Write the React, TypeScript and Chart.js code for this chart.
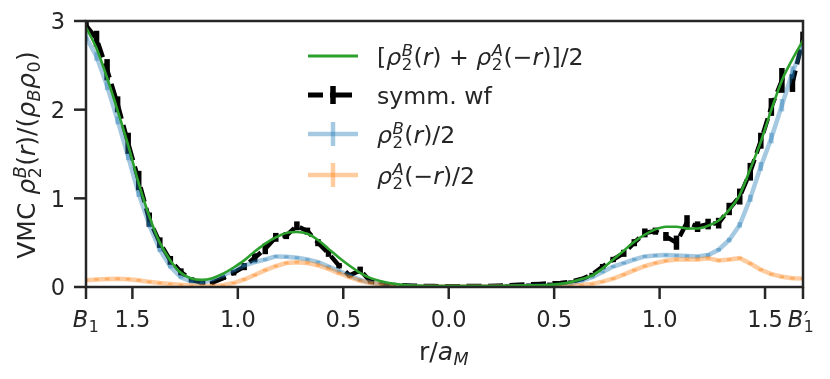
import React, { useEffect, useRef } from "react";
import { Chart, registerables } from "chart.js";
Chart.register(...registerables);

// position along the path B1 -> centre -> B1' (in units of a_M)
const X = [
  -1.72, -1.67, -1.62, -1.57, -1.52, -1.47, -1.42, -1.37, -1.32, -1.27,
  -1.22, -1.17, -1.12, -1.07, -1.02, -0.97, -0.92, -0.87, -0.82, -0.77,
  -0.72, -0.67, -0.62, -0.57, -0.52, -0.47, -0.42, -0.37, -0.32, -0.27,
  -0.22, -0.17, -0.12, -0.07, -0.02, 0.03, 0.08, 0.13, 0.18, 0.23,
  0.28, 0.33, 0.38, 0.43, 0.48, 0.53, 0.58, 0.63, 0.68, 0.73,
  0.78, 0.83, 0.88, 0.93, 0.98, 1.03, 1.08, 1.13, 1.18, 1.23,
  1.28, 1.33, 1.38, 1.43, 1.48, 1.53, 1.58, 1.63, 1.68,
];

const GREEN = [
  2.93, 2.69, 2.36, 1.99, 1.6, 1.17, 0.8, 0.5, 0.3, 0.16,
  0.095, 0.08, 0.1, 0.15, 0.22, 0.3, 0.4, 0.49, 0.56, 0.61,
  0.62, 0.6, 0.53, 0.43, 0.33, 0.24, 0.16, 0.1, 0.065, 0.04,
  0.025, 0.015, 0.012, 0.01, 0.01, 0.01, 0.01, 0.01, 0.012, 0.012,
  0.014, 0.016, 0.018, 0.02, 0.025, 0.035, 0.055, 0.09, 0.13, 0.21,
  0.31, 0.41, 0.51, 0.59, 0.65, 0.68, 0.68, 0.66, 0.66, 0.69,
  0.75, 0.87, 1.04, 1.33, 1.64, 2.0, 2.33, 2.57, 2.78,
];

const SYMM = [
  2.95, 2.8, 2.45, 2.06, 1.62, 1.2, 0.76, 0.5, 0.3, 0.17,
  0.08, 0.05, 0.05, 0.1, 0.16, 0.23, 0.33, 0.43, 0.56, 0.58,
  0.69, 0.63, 0.5, 0.38, 0.24, 0.13, 0.19, 0.06, 0.04, 0.025,
  0.02, 0.015, 0.012, 0.01, 0.008, 0.008, 0.01, 0.012, 0.01, 0.015,
  0.02, 0.025, 0.03, 0.035, 0.04, 0.045, 0.06, 0.09, 0.14, 0.23,
  0.31, 0.38, 0.5, 0.61, 0.63, 0.57, 0.5, 0.73, 0.68, 0.71,
  0.72, 0.88, 1.02, 1.3, 1.65, 2.03, 2.33, 2.3, 2.8,
];
const SYMM_ERR = [
  0.07, 0.09, 0.12, 0.09, 0.12, 0.11, 0.08, 0.06, 0.05, 0.04,
  0.03, 0.02, 0.02, 0.02, 0.03, 0.04, 0.05, 0.06, 0.05, 0.04,
  0.05, 0.04, 0.04, 0.04, 0.03, 0.02, 0.04, 0.02, 0.01, 0.01,
  0.01, 0.01, 0.01, 0.01, 0.01, 0.01, 0.01, 0.01, 0.01, 0.01,
  0.01, 0.01, 0.01, 0.01, 0.01, 0.01, 0.015, 0.02, 0.02, 0.03,
  0.03, 0.04, 0.04, 0.05, 0.04, 0.05, 0.08, 0.08, 0.06, 0.06,
  0.06, 0.07, 0.09, 0.1, 0.09, 0.1, 0.14, 0.1, 0.08,
];

const BLUE = [
  2.82, 2.6, 2.27, 1.88, 1.47, 1.05, 0.7, 0.42, 0.23, 0.11,
  0.06, 0.045, 0.085, 0.13, 0.19, 0.24, 0.28, 0.31, 0.345, 0.34,
  0.33, 0.31, 0.28, 0.23, 0.18, 0.13, 0.08, 0.05, 0.03, 0.02,
  0.012, 0.01, 0.008, 0.007, 0.006, 0.006, 0.006, 0.007, 0.008, 0.009,
  0.01, 0.011, 0.012, 0.014, 0.018, 0.025, 0.04, 0.07, 0.11, 0.17,
  0.23, 0.27, 0.31, 0.345, 0.355, 0.36, 0.355, 0.35, 0.345, 0.36,
  0.42, 0.53, 0.7, 1.0, 1.36, 1.68, 2.05, 2.42, 2.72,
];
const BLUE_ERR = [
  0.05, 0.05, 0.05, 0.045, 0.04, 0.035, 0.03, 0.025, 0.02, 0.015,
  0.015, 0.015, 0.015, 0.015, 0.015, 0.015, 0.015, 0.015, 0.015, 0.015,
  0.015, 0.015, 0.015, 0.015, 0.015, 0.015, 0.015, 0.015, 0.01, 0.01,
  0.01, 0.01, 0.01, 0.01, 0.01, 0.01, 0.01, 0.01, 0.01, 0.01,
  0.01, 0.01, 0.01, 0.01, 0.01, 0.015, 0.015, 0.015, 0.015, 0.015,
  0.015, 0.015, 0.015, 0.015, 0.015, 0.015, 0.015, 0.015, 0.015, 0.02,
  0.02, 0.025, 0.03, 0.04, 0.05, 0.06, 0.07, 0.07, 0.07,
];

const ORANGE = [
  0.075, 0.085, 0.09, 0.092, 0.088, 0.075, 0.058, 0.045, 0.035, 0.025,
  0.018, 0.012, 0.012, 0.02, 0.045, 0.085, 0.135, 0.19, 0.235, 0.27,
  0.28, 0.27, 0.245, 0.205, 0.155, 0.11, 0.07, 0.045, 0.028, 0.018,
  0.01, 0.007, 0.006, 0.005, 0.005, 0.005, 0.005, 0.005, 0.005, 0.005,
  0.005, 0.006, 0.006, 0.007, 0.008, 0.01, 0.015, 0.022, 0.035, 0.06,
  0.095, 0.14, 0.19, 0.235, 0.27, 0.295, 0.31, 0.31, 0.31, 0.325,
  0.3, 0.31, 0.325, 0.265, 0.195, 0.145, 0.115, 0.1, 0.095,
];
const ORANGE_ERR = [
  0.015, 0.015, 0.015, 0.015, 0.015, 0.015, 0.015, 0.015, 0.012, 0.012,
  0.01, 0.01, 0.01, 0.01, 0.012, 0.015, 0.015, 0.015, 0.015, 0.015,
  0.015, 0.015, 0.015, 0.015, 0.015, 0.015, 0.012, 0.01, 0.01, 0.01,
  0.01, 0.01, 0.01, 0.01, 0.01, 0.01, 0.01, 0.01, 0.01, 0.01,
  0.01, 0.01, 0.01, 0.01, 0.01, 0.01, 0.01, 0.01, 0.012, 0.012,
  0.015, 0.015, 0.015, 0.015, 0.015, 0.015, 0.015, 0.015, 0.015, 0.015,
  0.015, 0.015, 0.015, 0.015, 0.015, 0.015, 0.015, 0.015, 0.015,
];

const X_MIN = -1.72;
const X_MAX = 1.68;
const X_TICKS = [-1.72, -1.5, -1.0, -0.5, 0.0, 0.5, 1.0, 1.5, 1.68];
const X_TICK_LABELS = ["B1", "1.5", "1.0", "0.5", "0.0", "0.5", "1.0", "1.5", "B1'"];
const Y_TICKS = [0, 1, 2, 3];
const Y_TICK_LABELS = ["0", "1", "2", "3"];

type Tok = {
  t: string;
  it?: boolean;
  sup?: string;
  sub?: string;
  supIt?: boolean;
  subIt?: boolean;
  supScale?: number;
  supRaise?: number;
};

const LEGEND_TEXT: Tok[][] = [
  [
    { t: "[" },
    { t: "ρ", it: true, sup: "B", supIt: true, sub: "2" },
    { t: "(" },
    { t: "r", it: true },
    { t: ") + " },
    { t: "ρ", it: true, sup: "A", supIt: true, sub: "2" },
    { t: "(−" },
    { t: "r", it: true },
    { t: ")]/2" },
  ],
  [{ t: "symm. wf" }],
  [{ t: "ρ", it: true, sup: "B", supIt: true, sub: "2" }, { t: "(" }, { t: "r", it: true }, { t: ")/2" }],
  [{ t: "ρ", it: true, sup: "A", supIt: true, sub: "2" }, { t: "(−" }, { t: "r", it: true }, { t: ")/2" }],
];
const Y_LABEL: Tok[] = [
  { t: "VMC " },
  { t: "ρ", it: true, sup: "B", supIt: true, sub: "2" },
  { t: "(" },
  { t: "r", it: true },
  { t: ")/(" },
  { t: "ρ", it: true, sub: "B", subIt: true },
  { t: "ρ", it: true, sub: "0" },
  { t: ")" },
];
const X_LABEL: Tok[] = [{ t: "r/" }, { t: "a", it: true, sub: "M", subIt: true }];

const FAM = '"DejaVu Sans"';
const INK = "#262626";
const FS_TICK = 22.5;
const FS_LEG = 23.6;
const FS_LAB = 25;

function fnt(size: number, it?: boolean) {
  return `${it ? "italic " : ""}${size}px ${FAM}`;
}
function scriptW(ctx: CanvasRenderingContext2D, tok: Tok, size: number) {
  const ss = size * 0.7;
  let a = 0,
    b = 0;
  if (tok.sup) {
    ctx.font = fnt(size * (tok.supScale ?? 0.7), tok.supIt);
    a = ctx.measureText(tok.sup).width;
  }
  if (tok.sub) {
    ctx.font = fnt(ss, tok.subIt);
    b = ctx.measureText(tok.sub).width;
  }
  return Math.max(a, b) + size * 0.04;
}
function tokW(ctx: CanvasRenderingContext2D, tok: Tok, size: number) {
  ctx.font = fnt(size, tok.it);
  let w = ctx.measureText(tok.t).width;
  if (tok.sup || tok.sub) w += scriptW(ctx, tok, size);
  return w;
}
function mathW(ctx: CanvasRenderingContext2D, toks: Tok[], size: number) {
  return toks.reduce((s, t) => s + tokW(ctx, t, size), 0);
}
function drawMath(
  ctx: CanvasRenderingContext2D,
  toks: Tok[],
  x: number,
  y: number,
  size: number,
  align: "left" | "center" | "right"
) {
  const W = mathW(ctx, toks, size);
  let cx = align === "left" ? x : align === "center" ? x - W / 2 : x - W;
  ctx.textAlign = "left";
  ctx.textBaseline = "alphabetic";
  for (const tok of toks) {
    ctx.font = fnt(size, tok.it);
    ctx.fillText(tok.t, cx, y);
    let w = ctx.measureText(tok.t).width;
    if (tok.sup || tok.sub) {
      const sx = cx + w + size * 0.02;
      if (tok.sup) {
        ctx.font = fnt(size * (tok.supScale ?? 0.7), tok.supIt);
        ctx.fillText(tok.sup, sx, y - size * (tok.supRaise ?? 0.38));
      }
      if (tok.sub) {
        ctx.font = fnt(size * 0.7, tok.subIt);
        ctx.fillText(tok.sub, sx, y + size * (tok.sup ? 0.24 : 0.2));
      }
      w += scriptW(ctx, tok, size);
    }
    cx += w;
  }
}

const errorBars = {
  id: "errorBars",
  afterDatasetDraw(chart: any, args: any) {
    const ds = chart.data.datasets[args.index];
    if (!ds.errors) return;
    const { ctx, chartArea: a } = chart;
    const xs = chart.scales.x;
    const ys = chart.scales.y;
    ctx.save();
    ctx.beginPath();
    ctx.rect(a.left, a.top, a.right - a.left, a.bottom - a.top);
    ctx.clip();
    ctx.strokeStyle = ds.errColor;
    ctx.lineWidth = ds.errWidth;
    ctx.lineCap = "butt";
    ctx.setLineDash([]);
    ds.data.forEach((p: any, i: number) => {
      const e = ds.errors[i];
      const px = xs.getPixelForValue(p.x);
      ctx.beginPath();
      ctx.moveTo(px, ys.getPixelForValue(p.y - e));
      ctx.lineTo(px, ys.getPixelForValue(p.y + e));
      ctx.stroke();
    });
    ctx.restore();
  },
};

const decor = {
  id: "decor",
  afterDraw(chart: any) {
    const { ctx, chartArea: a } = chart;
    const xs = chart.scales.x;
    const ys = chart.scales.y;
    ctx.save();
    ctx.strokeStyle = INK;
    ctx.fillStyle = INK;
    ctx.lineWidth = 2.5;
    ctx.setLineDash([]);
    ctx.lineCap = "butt";
    // spines
    ctx.strokeRect(a.left, a.top, a.right - a.left, a.bottom - a.top);
    // ticks
    const TL = 12;
    X_TICKS.forEach((v, i) => {
      const px = xs.getPixelForValue(v);
      ctx.beginPath();
      ctx.moveTo(px, a.bottom);
      ctx.lineTo(px, a.bottom + TL);
      ctx.stroke();
      const lab = X_TICK_LABELS[i];
      const yb = a.bottom + 40;
      if (lab === "B1") {
        drawMath(ctx, [{ t: "B", it: true, sub: "1" }], px, yb, FS_TICK, "center");
      } else if (lab === "B1'") {
        drawMath(
          ctx,
          [{ t: "B", it: true, sup: "′", sub: "1", supScale: 0.95, supRaise: 0.02 }],
          px - 2,
          yb,
          FS_TICK,
          "center"
        );
      } else {
        ctx.font = fnt(FS_TICK);
        ctx.textAlign = "center";
        ctx.textBaseline = "alphabetic";
        ctx.fillText(lab, px, yb);
      }
    });
    Y_TICKS.forEach((v, i) => {
      const py = ys.getPixelForValue(v);
      ctx.beginPath();
      ctx.moveTo(a.left, py);
      ctx.lineTo(a.left - TL, py);
      ctx.stroke();
      ctx.font = fnt(FS_TICK);
      ctx.textAlign = "right";
      ctx.textBaseline = "alphabetic";
      ctx.fillText(Y_TICK_LABELS[i], 65, py + 8.2);
    });
    // axis labels
    drawMath(ctx, X_LABEL, 444, 360, FS_LAB, "center");
    ctx.save();
    ctx.translate(35, 155);
    ctx.rotate(-Math.PI / 2);
    drawMath(ctx, Y_LABEL, 0, 0, FS_LAB, "center");
    ctx.restore();

    // legend
    const rows = [56, 95, 134, 175];
    const hx0 = 308,
      hx1 = 358,
      hc = 333,
      tx = 377;
    ctx.strokeStyle = "#2ca02c";
    ctx.lineWidth = 3;
    ctx.beginPath();
    ctx.moveTo(hx0, rows[0]);
    ctx.lineTo(hx1, rows[0]);
    ctx.stroke();
    ctx.strokeStyle = "#000";
    ctx.lineWidth = 5;
    ctx.beginPath();
    ctx.moveTo(hx0, rows[1]);
    ctx.lineTo(hx0 + 15, rows[1]);
    ctx.moveTo(hx0 + 22, rows[1]);
    ctx.lineTo(hx0 + 44, rows[1]);
    ctx.stroke();
    ctx.lineWidth = 5.5;
    ctx.beginPath();
    ctx.moveTo(hc, rows[1] - 9);
    ctx.lineTo(hc, rows[1] + 9);
    ctx.stroke();
    const cross = (y: number, col: string) => {
      ctx.strokeStyle = col;
      ctx.lineWidth = 4.5;
      ctx.beginPath();
      ctx.moveTo(hx0, y);
      ctx.lineTo(hx1, y);
      ctx.stroke();
      ctx.beginPath();
      ctx.moveTo(hc, y - 12);
      ctx.lineTo(hc, y + 12);
      ctx.stroke();
    };
    cross(rows[2], "rgba(31,119,180,0.4)");
    cross(rows[3], "rgba(255,127,14,0.4)");
    ctx.fillStyle = INK;
    LEGEND_TEXT.forEach((toks, i) => drawMath(ctx, toks, tx, rows[i] + 8.5, FS_LEG, "left"));
    ctx.restore();
  },
};

export default function App() {
  const ref = useRef<HTMLCanvasElement | null>(null);
  useEffect(() => {
    if (!ref.current) return;
    const pts = (ys: number[]) => X.map((x, i) => ({ x, y: ys[i] }));
    const chart = new Chart(ref.current, {
      type: "line",
      data: {
        datasets: [
          {
            label: "green",
            data: pts(GREEN),
            borderColor: "#2ca02c",
            borderWidth: 2.6,
            pointRadius: 0,
            cubicInterpolationMode: "monotone",
            order: 0,
          } as any,
          {
            label: "orange",
            data: pts(ORANGE),
            borderColor: "rgba(255,127,14,0.4)",
            borderWidth: 4.5,
            pointRadius: 0,
            tension: 0,
            order: 1,
            errors: ORANGE_ERR,
            errColor: "rgba(255,127,14,0.4)",
            errWidth: 4.5,
          } as any,
          {
            label: "blue",
            data: pts(BLUE),
            borderColor: "rgba(31,119,180,0.4)",
            borderWidth: 4.5,
            pointRadius: 0,
            tension: 0,
            order: 2,
            errors: BLUE_ERR,
            errColor: "rgba(31,119,180,0.4)",
            errWidth: 4.5,
          } as any,
          {
            label: "symm",
            data: pts(SYMM),
            borderColor: "#000",
            borderWidth: 4.5,
            borderDash: [15, 6.5],
            borderCapStyle: "butt",
            pointRadius: 0,
            tension: 0,
            order: 3,
            errors: SYMM_ERR,
            errColor: "#000",
            errWidth: 5.5,
          } as any,
        ],
      },
      options: {
        responsive: false,
        animation: false,
        devicePixelRatio: 1,
        layout: { padding: { left: 86, right: 27, top: 21, bottom: 92 } },
        plugins: { legend: { display: false }, tooltip: { enabled: false } },
        scales: {
          x: { type: "linear", min: X_MIN, max: X_MAX, display: false },
          y: { type: "linear", min: 0, max: 3, display: false },
        },
      },
      plugins: [errorBars, decor],
    });
    return () => chart.destroy();
  }, []);
  return (
    <div style={{ position: "fixed", left: 0, top: 0, width: 830, height: 379, background: "#fff" }}>
      <canvas ref={ref} width={830} height={379} style={{ display: "block" }} />
    </div>
  );
}
